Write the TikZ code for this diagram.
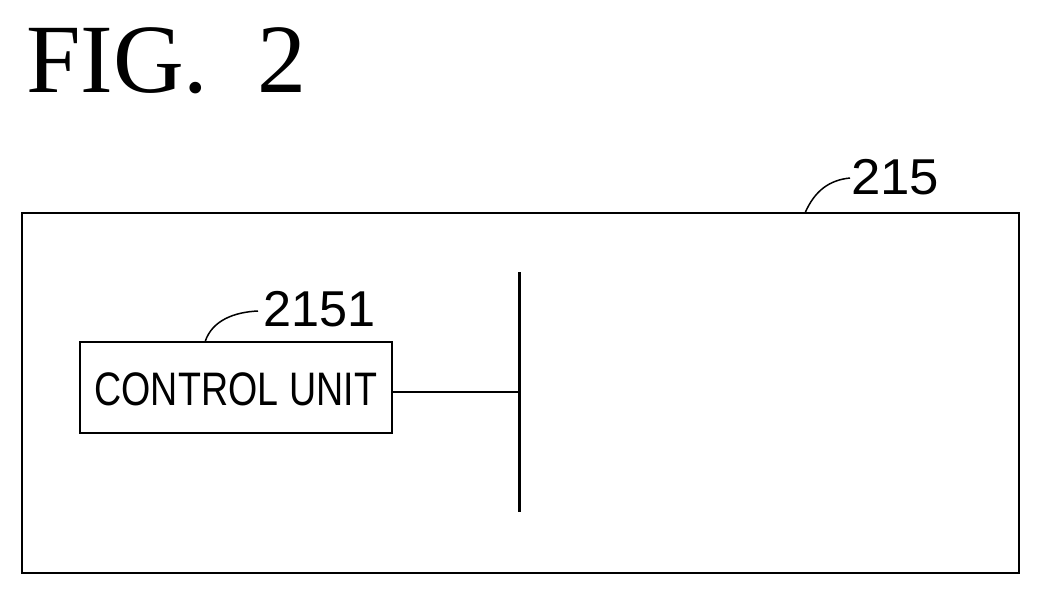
\documentclass[tikz,border=0pt]{standalone}
\usepackage{fontspec}
\setmainfont{Liberation Serif}
\newfontfamily\lab{Liberation Sans}
\begin{document}
\begin{tikzpicture}[x=1pt,y=-1pt,line width=2pt,
  lbl/.style={inner sep=0pt,anchor=south west,font=\lab\fontsize{48}{48}\selectfont}]
\useasboundingbox (0,0) rectangle (1040,595);
\node[inner sep=0pt,anchor=base west,font=\fontsize{98}{98}\selectfont] (title) at (25,92) {FIG.\hspace{0.5em}2};
\draw (22,213) rectangle (1019,573);
\node[lbl] (l215) at (850,196) {\scalebox{1.1}[1.05]{215}};
\draw[line width=1.5pt] (805,213) .. controls (815,190) and (830,180) .. (850,178);
\node[draw,minimum width=312pt,minimum height=91pt,inner sep=0pt] (cu) at (236,387.5) {};
\node[inner sep=0pt,font=\lab\fontsize{47}{47}\selectfont] (cut) at (236,389) {\scalebox{0.8}[1]{CONTROL\hspace{0.3em}UNIT}};
\node[lbl] (l2151) at (262,328) {\scalebox{1.05}[1.05]{2151}};
\draw[line width=1.5pt] (205,342) .. controls (212,320) and (235,312) .. (258,311);
\coordinate (bt) at (519,272);
\coordinate (bb) at (519,512);
\coordinate (j) at (392,392);
\draw[line width=3pt] (bt) -- (bb);
\draw[line width=1.5pt] (j) -- (j -| bt);
\end{tikzpicture}
\end{document}
